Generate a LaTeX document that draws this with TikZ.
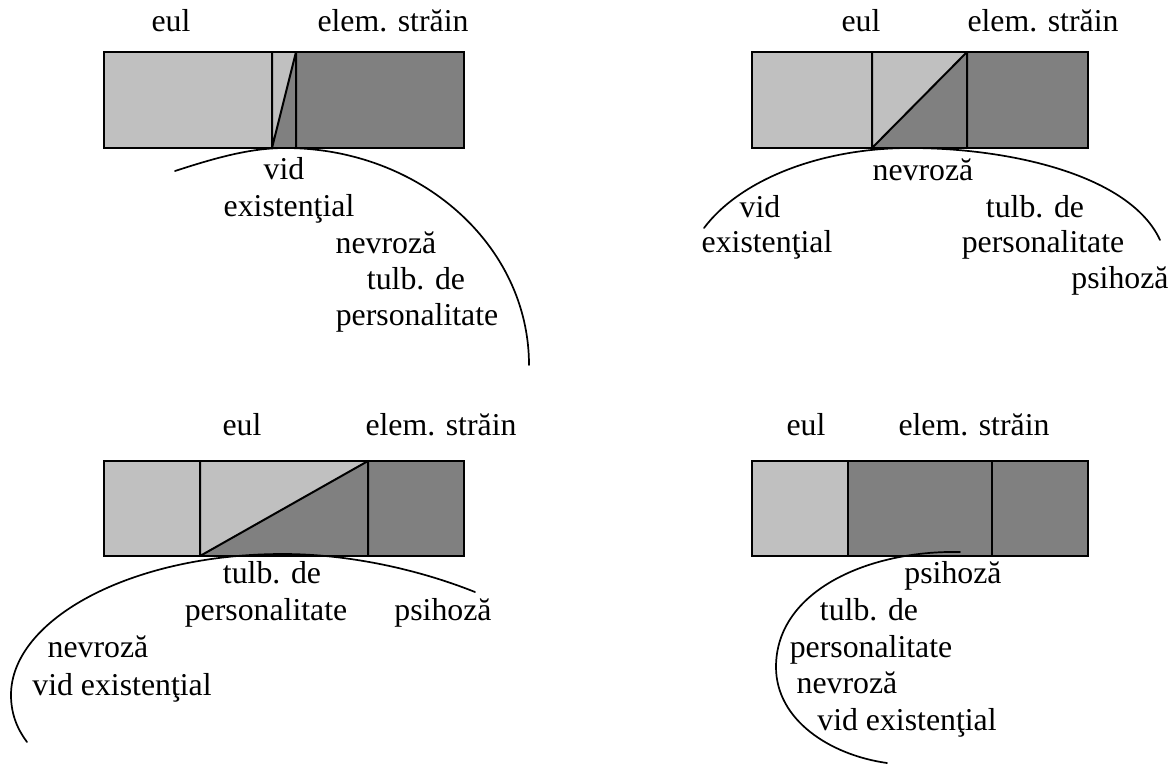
\documentclass[tikz,border=0pt]{standalone}
\usepackage{fontspec}
\setmainfont{Liberation Serif}
\definecolor{lightg}{HTML}{C0C0C0}
\definecolor{darkg}{HTML}{808080}
\begin{document}
\begin{tikzpicture}[x=1pt,y=-1pt,
  lbl/.style={anchor=base, inner sep=0pt, font=\fontsize{31.8}{36.5}\selectfont},
  frame/.style={line width=2pt, line join=miter},
  curve/.style={line width=1.7pt, line cap=round}]
\useasboundingbox (0,0) rectangle (1174,765);

% ---------- panel 1 ----------
\fill[lightg] (104,52) rectangle (272,148);
\fill[lightg] (272,52) -- (296,52) -- (272,148) -- cycle;
\fill[darkg] (272,148) -- (296,52) -- (296,148) -- cycle;
\fill[darkg] (296,52) rectangle (464,148);
\draw[frame] (104,52) rectangle (464,148);
\draw[frame] (272,52) -- (272,148) (296,52) -- (296,148) (272,148) -- (296,52);
\draw[curve] (175,171) .. controls (215,158) and (250,148) .. (285,148)
  .. controls (420,148) and (529,245) .. (529,365);
\node[lbl] (a-eul) at (171,32) {eul};
\node[lbl] (a-el) at (393,32) {elem. străin};
\node[lbl] (a-vid) at (284,179) {vid};
\node[lbl] (a-ex) at (289,216) {existenţial};
\node[lbl] (a-nev) at (386,253) {nevroză};
\node[lbl] (a-tulb) at (416,289) {tulb. de};
\node[lbl] (a-pers) at (417,325) {personalitate};

% ---------- panel 2 ----------
\fill[lightg] (752,52) rectangle (872,148);
\fill[lightg] (872,52) -- (967,52) -- (872,148) -- cycle;
\fill[darkg] (872,148) -- (967,52) -- (967,148) -- cycle;
\fill[darkg] (967,52) rectangle (1088,148);
\draw[frame] (752,52) rectangle (1088,148);
\draw[frame] (872,52) -- (872,148) (967,52) -- (967,148) (872,148) -- (967,52);
\draw[curve] (704,228) .. controls (740,180) and (820,148) .. (910,148)
  .. controls (1010,148) and (1130,175) .. (1160,240);
\node[lbl] (b-eul) at (861,32) {eul};
\node[lbl] (b-el) at (1043,32) {elem. străin};
\node[lbl] (b-nev) at (923,180) {nevroză};
\node[lbl] (b-vid) at (760,217) {vid};
\node[lbl] (b-ex) at (767,252) {existenţial};
\node[lbl] (b-tulb) at (1035,217) {tulb. de};
\node[lbl] (b-pers) at (1043,252) {personalitate};
\node[lbl] (b-psi) at (1120,288) {psihoză};

% ---------- panel 3 ----------
\fill[lightg] (104,461) rectangle (200,556);
\fill[lightg] (200,461) -- (368,461) -- (200,556) -- cycle;
\fill[darkg] (200,556) -- (368,461) -- (368,556) -- cycle;
\fill[darkg] (368,461) rectangle (464,556);
\draw[frame] (104,461) rectangle (464,556);
\draw[frame] (200,461) -- (200,556) (368,461) -- (368,556) (200,556) -- (368,461);
\draw[curve] (475,592) .. controls (420,570) and (350,554) .. (283,554)
  .. controls (130,554) and (11,620) .. (11,695)
  .. controls (11,715) and (18,730) .. (27,742);
\node[lbl] (c-eul) at (242,435) {eul};
\node[lbl] (c-el) at (441,435) {elem. străin};
\node[lbl] (c-tulb) at (272,583) {tulb. de};
\node[lbl] (c-pers) at (266,620) {personalitate};
\node[lbl] (c-psi) at (443,620) {psihoză};
\node[lbl] (c-nev) at (98,657) {nevroză};
\node[lbl] (c-vid) at (122,695) {vid existenţial};

% ---------- panel 4 ----------
\fill[lightg] (752,461) rectangle (848,556);
\fill[darkg] (848,461) rectangle (1088,556);
\draw[frame] (752,461) rectangle (1088,556);
\draw[frame] (848,461) -- (848,556) (992,461) -- (992,556);
\draw[curve] (960,552) .. controls (870,550) and (776,590) .. (776,667)
  .. controls (776,720) and (830,755) .. (887,763);
\node[lbl] (d-eul) at (806,435) {eul};
\node[lbl] (d-el) at (974,435) {elem. străin};
\node[lbl] (d-psi) at (953,583) {psihoză};
\node[lbl] (d-tulb) at (869,620) {tulb. de};
\node[lbl] (d-pers) at (871,657) {personalitate};
\node[lbl] (d-nev) at (847,693) {nevroză};
\node[lbl] (d-vid) at (907,730) {vid existenţial};
\end{tikzpicture}
\end{document}
